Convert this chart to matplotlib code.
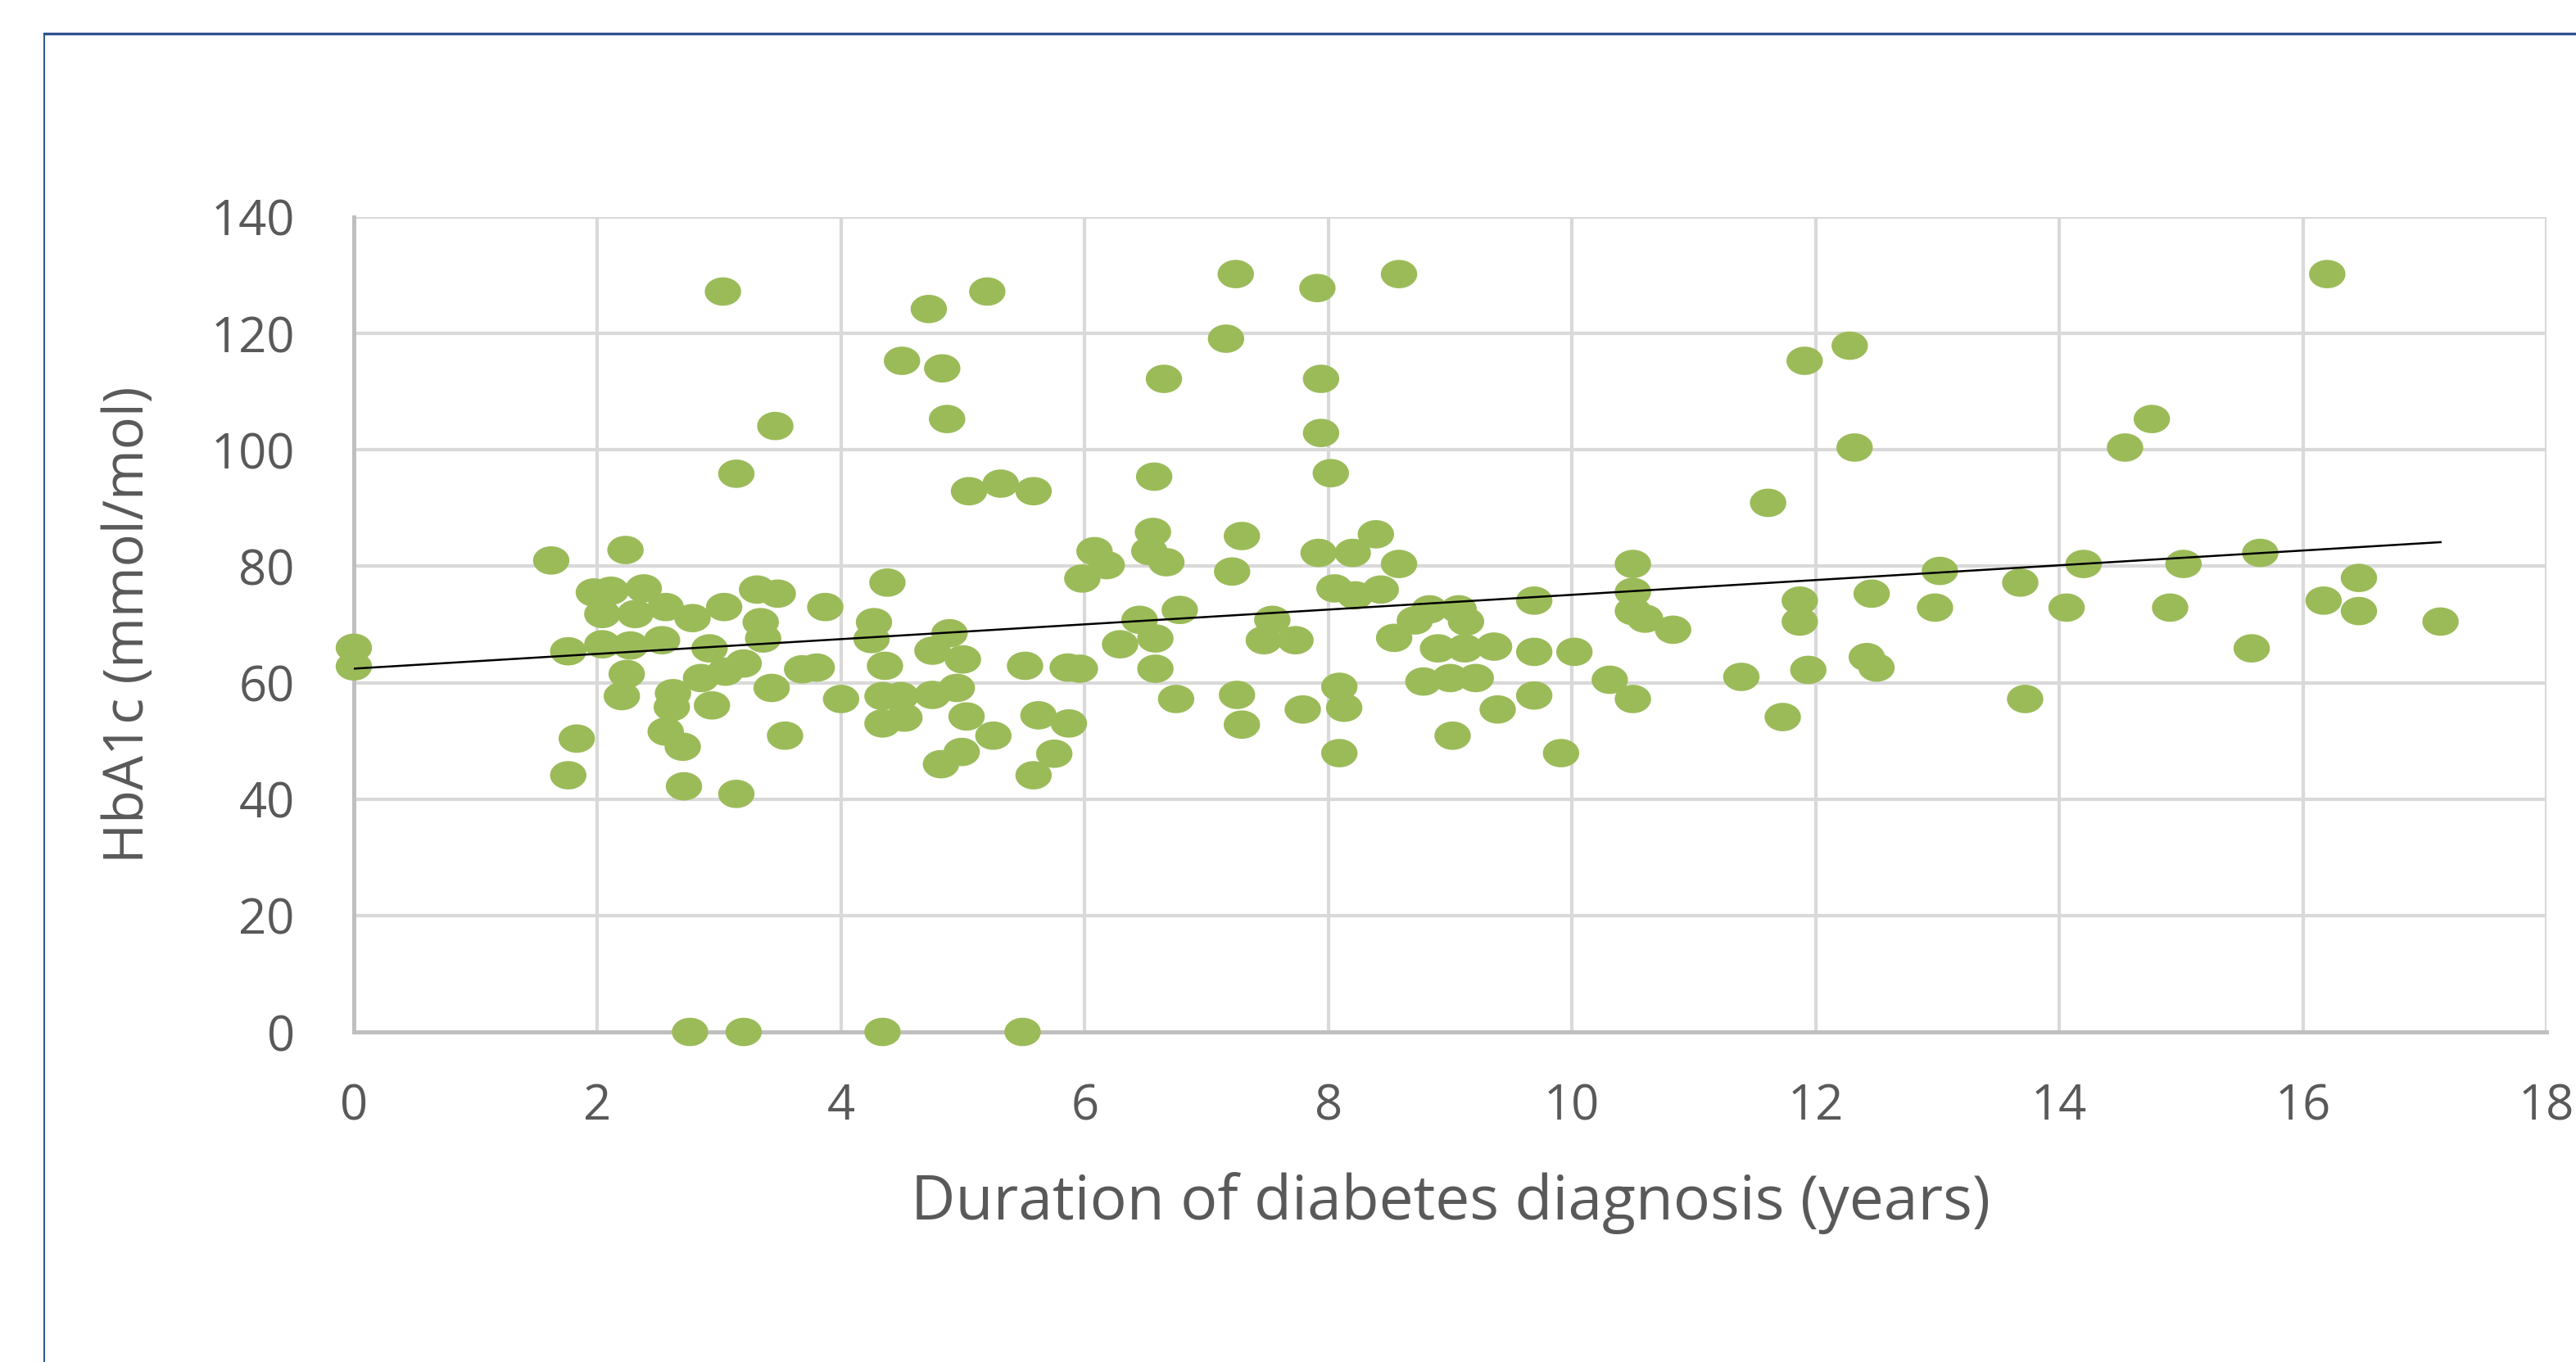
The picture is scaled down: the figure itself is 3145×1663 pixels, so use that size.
import numpy as np
import matplotlib
matplotlib.use("Agg")
import matplotlib.pyplot as plt
from matplotlib.path import Path
from matplotlib.lines import Line2D

plt.rcParams['font.family'] = ['Open Sans', 'DejaVu Sans']

# ---- data ----
duration_years = [
    0.00, 0.00,
    1.62, 1.76, 1.83, 1.76, 1.97,
    2.23, 2.11, 2.38, 2.04, 2.31, 2.56, 2.78, 2.04, 2.27, 2.53, 2.92, 2.24, 2.20,
    2.62, 2.61, 2.85, 2.94, 2.56, 2.70, 2.71, 2.76,
    3.04, 3.31, 3.48, 3.34, 3.36, 3.05, 3.20, 3.43, 3.54, 3.14, 3.03, 3.46, 3.14,
    3.87, 3.80, 3.68, 4.00, 3.20,
    4.38, 4.27, 4.25, 4.36, 4.34, 4.49, 4.75, 4.34, 4.52, 4.82, 4.72, 4.50, 4.83,
    4.87, 4.75, 4.89, 5.00, 4.95, 4.99, 4.34,
    5.20, 5.05, 5.31, 5.58, 5.03, 5.25, 5.51, 5.86, 5.96, 5.62, 5.87, 5.75, 5.58,
    5.49, 5.98,
    6.08, 6.18, 6.53, 6.56, 6.67, 6.57, 6.65, 6.78, 6.45, 6.29, 6.58, 6.58, 6.75,
    7.16, 7.24, 7.91, 7.94, 7.94, 7.29, 7.21, 7.92, 7.54, 7.47, 7.73, 7.25, 7.29,
    7.79,
    8.02, 8.58, 8.20, 8.39, 8.58, 8.05, 8.22, 8.43, 8.54, 8.83, 9.07, 8.71, 8.90,
    8.78, 9.00, 8.09, 8.13, 8.09, 9.02,
    9.13, 9.12, 9.36, 9.21, 9.69, 9.69, 9.39, 9.69, 9.91,
    10.02, 10.31, 10.50, 10.50, 10.50, 10.50, 10.60, 10.83,
    11.91, 11.61, 11.87, 11.87, 11.39, 11.94, 11.73,
    12.28, 12.32, 12.46, 12.42, 12.50, 13.02, 12.98, 13.68, 13.72,
    14.06, 14.20, 14.76, 14.54, 14.91, 15.02, 15.65, 15.58, 16.20, 16.17, 16.46,
    16.46, 17.13,
]
hba1c_mmol_mol = [
    66.0, 62.8,
    81.0, 65.4, 50.4, 44.1, 75.5,
    82.8, 75.8, 76.2, 71.8, 71.8, 73.0, 71.1, 66.6, 66.4, 67.3, 65.9, 61.5, 57.7,
    58.2, 55.8, 60.8, 56.1, 51.6, 49.0, 42.2, 0.0,
    73.0, 76.0, 75.3, 70.4, 67.6, 61.9, 63.3, 59.1, 50.9, 40.9, 127.2, 104.1, 95.9,
    73.0, 62.6, 62.3, 57.2, 0.0,
    77.2, 70.4, 67.5, 62.9, 57.7, 57.7, 57.9, 53.0, 54.0, 46.0, 124.2, 115.3, 114.0,
    105.3, 65.5, 68.5, 64.0, 59.1, 48.1, 0.0,
    127.2, 92.9, 94.2, 92.9, 54.2, 50.9, 62.9, 62.6, 62.4, 54.4, 53.0, 47.8, 44.1,
    0.0, 77.9,
    82.6, 80.2, 82.6, 85.9, 80.7, 95.4, 112.2, 72.5, 70.8, 66.6, 67.6, 62.4, 57.2,
    119.1, 130.2, 127.8, 112.2, 102.9, 85.2, 79.1, 82.3, 70.8, 67.3, 67.3, 57.9, 52.8,
    55.4,
    96.0, 130.2, 82.3, 85.5, 80.4, 76.2, 75.0, 76.0, 67.7, 72.6, 72.6, 70.7, 65.9,
    60.2, 60.8, 59.3, 55.7, 47.9, 50.9,
    70.5, 65.9, 66.2, 60.8, 74.1, 65.3, 55.4, 57.8, 47.9,
    65.3, 60.5, 57.2, 80.4, 75.6, 72.3, 71.0, 69.1,
    115.3, 90.9, 74.1, 70.5, 61.0, 62.2, 54.1,
    117.9, 100.4, 75.3, 64.4, 62.6, 79.2, 72.9, 77.2, 57.2,
    72.9, 80.4, 105.3, 100.4, 72.9, 80.4, 82.3, 65.9, 130.2, 74.1, 78.0,
    72.3, 70.5,
]
x_ticks = [0, 2, 4, 6, 8, 10, 12, 14, 16, 18]
y_ticks = [0, 20, 40, 60, 80, 100, 120, 140]
x_label = "Duration of diabetes diagnosis (years)"
y_label = "HbA1c (mmol/mol)"

# ---- figure ----
W, H = 3145, 1663
DPI = 100
fig = plt.figure(figsize=(W / DPI, H / DPI), dpi=DPI)
fig.patch.set_facecolor('white')

ax = fig.add_axes([432 / W, 1 - 1260 / H, (3109 - 432) / W, (1260 - 265) / H])
ax.set_xlim(0, 18)
ax.set_ylim(0, 140)
ax.set_xticks(x_ticks)
ax.set_yticks(y_ticks)
ax.set_xticklabels([str(t) for t in x_ticks])
ax.set_yticklabels([str(t) for t in y_ticks])

grid_col = '#D9D9D9'
ax.grid(True, color=grid_col, linewidth=3.0, zorder=0)
ax.set_axisbelow(True)
for side in ['top', 'right']:
    ax.spines[side].set_visible(False)
for side in ['left', 'bottom']:
    ax.spines[side].set_color('#BFBFBF')
    ax.spines[side].set_linewidth(3.6)

ax.tick_params(axis='both', length=0, labelsize=43, labelcolor='#595959')
ax.tick_params(axis='x', pad=44)
ax.tick_params(axis='y', pad=52)

# elliptical marker like the reference
theta = np.linspace(0, 2 * np.pi, 60)
ell = Path(np.column_stack([np.cos(theta), 0.78 * np.sin(theta)]), closed=True)

x = np.array(duration_years)
y = np.array(hba1c_mmol_mol)
ax.scatter(x, y, s=32 ** 2, marker=ell, color='#9BBB59', edgecolors='none',
           zorder=3, clip_on=False)

# linear trend line (least squares fit of the data)
slope, intercept = np.polyfit(x, y, 1)
tx = np.array([x.min(), x.max()])
ax.plot(tx, intercept + slope * tx, color='black', linewidth=1.8, zorder=4)

ax.set_xlabel(x_label, fontsize=54, color='#595959', labelpad=36)
ax.set_ylabel(y_label, fontsize=48, color='#595959', labelpad=48)

# outer chart frame (top and left edges visible)
fig.add_artist(Line2D([54 / W, 1.0], [1 - 41 / H, 1 - 41 / H],
                      color='#2F528F', linewidth=2.4, transform=fig.transFigure))
fig.add_artist(Line2D([54 / W, 54 / W], [0.0, 1 - 41 / H],
                      color='#2F528F', linewidth=1.4, transform=fig.transFigure))

fig.savefig('out.png', dpi=DPI, facecolor='white')
